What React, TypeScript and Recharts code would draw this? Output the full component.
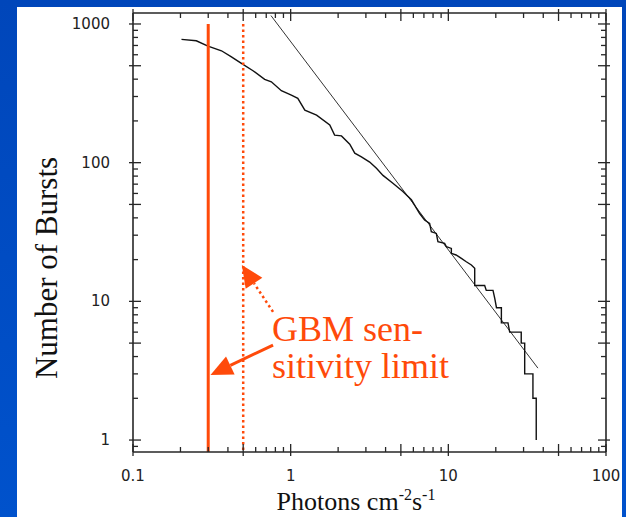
import React from "react";
import { LineChart, Line, XAxis, YAxis, ReferenceLine } from "recharts";

document.body.style.margin = "0";

// cumulative number of bursts vs peak flux
const FLUX = [
    0.203, 0.252, 0.299, 0.364, 0.421, 0.487, 0.577, 0.684, 0.754, 0.873, 1.01, 1.11, 1.23, 1.46, 1.77, 1.9,
    2.1, 2.37, 2.55, 2.81, 3.17, 3.5, 3.85, 4.45, 5.15, 5.83, 6.58, 7.07, 7.61, 7.8, 8.39, 8.59, 9.47, 9.71,
    10.45, 10.45, 11.2, 12.1, 13.0, 14.0, 14.7, 14.7, 17.0, 17.4, 19.2, 19.7, 20.2, 21.7, 21.7, 23.9, 24.5,
    29.0, 29.0, 30.5, 30.5, 34.4, 34.4, 36.1, 36.1,
];
const BURSTS = [
    774, 757, 693, 641, 580, 520, 460, 399, 383, 330, 307, 291, 239, 220, 187, 158, 156, 136, 117, 110, 101, 91,
    81, 71, 62, 54, 43, 38.6, 36.5, 31.8, 30.9, 26.9, 26.2, 24.8, 24.1, 22.2, 21.6, 20.4, 19.3, 18.3, 17.3, 13,
    13, 12, 12, 10.5, 9, 9, 7, 7, 6, 6, 5, 5, 3, 3, 2, 2, 1,
];

// -3/2 power law reference line
const FIT_FLUX = [0.75, 37];
const FIT_BURSTS = [1150, 3.3];

// GBM sensitivity limits
const LIMIT_SOLID = 0.3;
const LIMIT_DOTTED = 0.5;
const LIMIT_TOP = 1000;

const X_DOMAIN = [0.1, 100];
const Y_DOMAIN = [0.82, 1200];
const X_TICKS = [
    0.1, 0.2, 0.3, 0.4, 0.5, 0.6, 0.7, 0.8, 0.9, 1, 2, 3, 4, 5, 6, 7, 8, 9, 10, 20, 30, 40, 50, 60, 70, 80, 90, 100,
];
const Y_TICKS = [
    0.9, 1, 2, 3, 4, 5, 6, 7, 8, 9, 10, 20, 30, 40, 50, 60, 70, 80, 90, 100, 200, 300, 400, 500, 600, 700, 800, 900,
    1000,
];
const X_MAJOR = [0.1, 1, 10, 100];
const X_LABELS = ["0.1", "1", "10", "100"];
const Y_MAJOR = [1, 10, 100, 1000];
const Y_LABELS = ["1", "10", "100", "1000"];

const curve = FLUX.map((x, i) => ({ x, y: BURSTS[i] }));
const fit = FIT_FLUX.map((x, i) => ({ x, y: FIT_BURSTS[i] }));

const AX = "#262626";
const RED = "#ff4a0a";
const TICK_FONT = { fontFamily: "DejaVu Sans", fontSize: 15, fill: "#222" };

const mantissa = (v: number) => {
    const m = v / Math.pow(10, Math.floor(Math.log10(v) + 1e-9));
    return Math.round(m * 100) / 100;
};
const isLong = (v: number) => mantissa(v) === 1 || mantissa(v) === 5;

const BottomTick = ({ x, y, payload }: any) => {
    const v = payload.value;
    const long = isLong(v);
    const idx = X_MAJOR.indexOf(v);
    return (
        <g>
            <line x1={x} x2={x} y1={y - (long ? 8 : 5)} y2={y + (long ? 4 : 0)} stroke={AX} strokeWidth={1.3} />
            {idx >= 0 && (
                <text x={x} y={y + 24} textAnchor="middle" dominantBaseline="central" {...TICK_FONT}>
                    {X_LABELS[idx]}
                </text>
            )}
        </g>
    );
};

const TopTick = ({ x, y, payload }: any) => {
    const long = isLong(payload.value);
    return <line x1={x} x2={x} y1={y - (long ? 4 : 0)} y2={y + (long ? 8 : 5)} stroke={AX} strokeWidth={1.3} />;
};

const LeftTick = ({ x, y, payload }: any) => {
    const v = payload.value;
    const long = isLong(v);
    const idx = Y_MAJOR.indexOf(v);
    return (
        <g>
            <line x1={x - (long ? 4 : 0)} x2={x + (long ? 8 : 5)} y1={y} y2={y} stroke={AX} strokeWidth={1.3} />
            {idx >= 0 && (
                <text x={x - 23} y={y} textAnchor="end" dominantBaseline="central" {...TICK_FONT}>
                    {Y_LABELS[idx]}
                </text>
            )}
        </g>
    );
};

const RightTick = ({ x, y, payload }: any) => {
    const long = isLong(payload.value);
    return <line x1={x - (long ? 8 : 5)} x2={x + (long ? 4 : 0)} y1={y} y2={y} stroke={AX} strokeWidth={1.3} />;
};

// arrow from the label to a limit line
const Arrow = ({ x1, y1, x2, y2, dashed }: any) => {
    const dx = x2 - x1;
    const dy = y2 - y1;
    const len = Math.sqrt(dx * dx + dy * dy);
    const ux = dx / len;
    const uy = dy / len;
    const head = 22;
    const half = 10;
    const bx = x2 - ux * head;
    const by = y2 - uy * head;
    const pts = `${x2},${y2} ${bx - uy * half},${by + ux * half} ${bx + uy * half},${by - ux * half}`;
    return (
        <g>
            <line
                x1={x1}
                y1={y1}
                x2={bx}
                y2={by}
                stroke={RED}
                strokeWidth={dashed ? 2.5 : 3}
                strokeDasharray={dashed ? "2.5 3" : undefined}
            />
            <polygon points={pts} fill={RED} />
        </g>
    );
};

export default function App() {
    return (
        <div
            style={{
                position: "relative",
                width: 626,
                height: 517,
                overflow: "hidden",
                background: "linear-gradient(#0046ba, #0052cc)",
            }}
        >
            <div style={{ position: "absolute", left: 17, top: 7, width: 605, height: 510, background: "#fff" }} />
            <div style={{ position: "absolute", left: 0, top: 0 }}>
                <LineChart width={626} height={517} margin={{ top: 12, right: 19, bottom: 25, left: 73 }}>
                    <XAxis
                        dataKey="x"
                        type="number"
                        scale="log"
                        domain={X_DOMAIN}
                        allowDataOverflow
                        ticks={X_TICKS}
                        interval={0}
                        height={40}
                        tickSize={0}
                        tickMargin={0}
                        tickLine={false}
                        axisLine={{ stroke: AX, strokeWidth: 1.6 }}
                        tick={<BottomTick />}
                    />
                    <XAxis
                        xAxisId="top"
                        orientation="top"
                        dataKey="x"
                        type="number"
                        scale="log"
                        domain={X_DOMAIN}
                        allowDataOverflow
                        ticks={X_TICKS}
                        interval={0}
                        height={1}
                        tickSize={0}
                        tickMargin={0}
                        tickLine={false}
                        axisLine={{ stroke: AX, strokeWidth: 1.6 }}
                        tick={<TopTick />}
                    />
                    <YAxis
                        type="number"
                        scale="log"
                        domain={Y_DOMAIN}
                        allowDataOverflow
                        ticks={Y_TICKS}
                        interval={0}
                        width={60}
                        tickSize={0}
                        tickMargin={0}
                        tickLine={false}
                        axisLine={{ stroke: AX, strokeWidth: 1.6 }}
                        tick={<LeftTick />}
                    />
                    <YAxis
                        yAxisId="right"
                        orientation="right"
                        type="number"
                        scale="log"
                        domain={Y_DOMAIN}
                        allowDataOverflow
                        ticks={Y_TICKS}
                        interval={0}
                        width={1}
                        tickSize={0}
                        tickMargin={0}
                        tickLine={false}
                        axisLine={{ stroke: AX, strokeWidth: 1.6 }}
                        tick={<RightTick />}
                    />
                    <Line
                        data={fit}
                        dataKey="y"
                        type="linear"
                        stroke="#333"
                        strokeWidth={1}
                        dot={false}
                        isAnimationActive={false}
                    />
                    <Line
                        data={curve}
                        dataKey="y"
                        type="linear"
                        stroke="#111"
                        strokeWidth={1.4}
                        dot={false}
                        isAnimationActive={false}
                    />
                    <ReferenceLine
                        segment={[
                            { x: LIMIT_SOLID, y: LIMIT_TOP },
                            { x: LIMIT_SOLID, y: Y_DOMAIN[0] },
                        ]}
                        stroke={RED}
                        strokeWidth={3}
                        ifOverflow="visible"
                    />
                    <ReferenceLine
                        segment={[
                            { x: LIMIT_DOTTED, y: LIMIT_TOP },
                            { x: LIMIT_DOTTED, y: Y_DOMAIN[0] },
                        ]}
                        stroke={RED}
                        strokeWidth={2.5}
                        strokeDasharray="2.5 3"
                        ifOverflow="visible"
                    />
                    <ReferenceLine
                        segment={[
                            { x: 0.773, y: 4.84 },
                            { x: 0.31, y: 2.95 },
                        ]}
                        ifOverflow="visible"
                        shape={(p: any) => <Arrow {...p} />}
                    />
                    <ReferenceLine
                        segment={[
                            { x: 0.773, y: 8.4 },
                            { x: 0.49, y: 18.3 },
                        ]}
                        ifOverflow="visible"
                        shape={(p: any) => <Arrow {...p} dashed />}
                    />
                </LineChart>
            </div>
            <div
                style={{
                    position: "absolute",
                    left: 356,
                    top: 490,
                    transform: "translateX(-50%)",
                    whiteSpace: "nowrap",
                    fontFamily: "Liberation Serif",
                    fontSize: 26,
                    lineHeight: "24px",
                    color: "#111",
                }}
            >
                Photons cm<sup style={{ fontSize: 16, lineHeight: 0 }}>-2</sup>s
                <sup style={{ fontSize: 16, lineHeight: 0 }}>-1</sup>
            </div>
            <div
                style={{
                    position: "absolute",
                    left: 47,
                    top: 268,
                    transform: "translate(-50%, -50%) rotate(-90deg)",
                    whiteSpace: "nowrap",
                    fontFamily: "Liberation Serif",
                    fontSize: 31,
                    lineHeight: "32px",
                    color: "#111",
                }}
            >
                Number of Bursts
            </div>
            <div
                style={{
                    position: "absolute",
                    left: 272,
                    top: 311,
                    fontFamily: "Liberation Serif",
                    fontSize: 36,
                    lineHeight: "37px",
                    color: RED,
                    whiteSpace: "nowrap",
                }}
            >
                GBM sen-
                <br />
                sitivity limit
            </div>
        </div>
    );
}
